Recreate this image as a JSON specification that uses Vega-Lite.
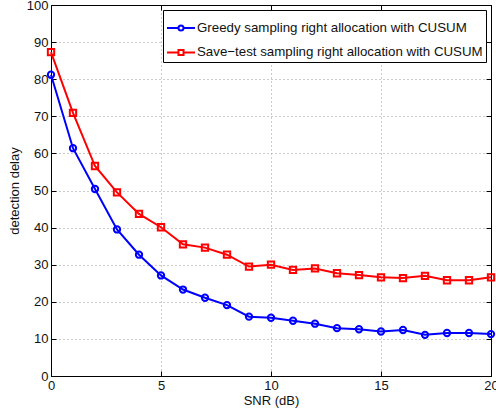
{
  "$schema": "https://vega.github.io/schema/vega-lite/v6.json",
  "width": 440,
  "height": 371,
  "autosize": {"type": "none"},
  "padding": {"left": 51, "top": 5, "right": 5, "bottom": 38},
  "background": "white",
  "config": {
    "view": {"stroke": "black", "strokeWidth": 1},
    "font": "Liberation Sans",
    "axis": {
      "labelFont": "Liberation Sans",
      "titleFont": "Liberation Sans",
      "labelColor": "#111",
      "titleColor": "#111",
      "domainColor": "black",
      "tickColor": "black",
      "gridColor": "#999",
      "gridDash": [1, 3],
      "gridOpacity": 1,
      "labelFontSize": 13,
      "titleFontSize": 13,
      "titleFontWeight": "normal"
    }
  },
  "data": {
    "values": [
      {"snr": 0, "delay": 81.2, "series": "Greedy sampling right allocation with CUSUM"},
      {"snr": 1, "delay": 61.4, "series": "Greedy sampling right allocation with CUSUM"},
      {"snr": 2, "delay": 50.4, "series": "Greedy sampling right allocation with CUSUM"},
      {"snr": 3, "delay": 39.5, "series": "Greedy sampling right allocation with CUSUM"},
      {"snr": 4, "delay": 32.7, "series": "Greedy sampling right allocation with CUSUM"},
      {"snr": 5, "delay": 27.1, "series": "Greedy sampling right allocation with CUSUM"},
      {"snr": 6, "delay": 23.3, "series": "Greedy sampling right allocation with CUSUM"},
      {"snr": 7, "delay": 21.1, "series": "Greedy sampling right allocation with CUSUM"},
      {"snr": 8, "delay": 19.1, "series": "Greedy sampling right allocation with CUSUM"},
      {"snr": 9, "delay": 16.0, "series": "Greedy sampling right allocation with CUSUM"},
      {"snr": 10, "delay": 15.7, "series": "Greedy sampling right allocation with CUSUM"},
      {"snr": 11, "delay": 14.9, "series": "Greedy sampling right allocation with CUSUM"},
      {"snr": 12, "delay": 14.1, "series": "Greedy sampling right allocation with CUSUM"},
      {"snr": 13, "delay": 12.9, "series": "Greedy sampling right allocation with CUSUM"},
      {"snr": 14, "delay": 12.6, "series": "Greedy sampling right allocation with CUSUM"},
      {"snr": 15, "delay": 12.0, "series": "Greedy sampling right allocation with CUSUM"},
      {"snr": 16, "delay": 12.4, "series": "Greedy sampling right allocation with CUSUM"},
      {"snr": 17, "delay": 11.1, "series": "Greedy sampling right allocation with CUSUM"},
      {"snr": 18, "delay": 11.6, "series": "Greedy sampling right allocation with CUSUM"},
      {"snr": 19, "delay": 11.6, "series": "Greedy sampling right allocation with CUSUM"},
      {"snr": 20, "delay": 11.3, "series": "Greedy sampling right allocation with CUSUM"},
      {"snr": 0, "delay": 87.3, "series": "Save−test sampling right allocation with CUSUM"},
      {"snr": 1, "delay": 70.9, "series": "Save−test sampling right allocation with CUSUM"},
      {"snr": 2, "delay": 56.6, "series": "Save−test sampling right allocation with CUSUM"},
      {"snr": 3, "delay": 49.5, "series": "Save−test sampling right allocation with CUSUM"},
      {"snr": 4, "delay": 43.7, "series": "Save−test sampling right allocation with CUSUM"},
      {"snr": 5, "delay": 40.1, "series": "Save−test sampling right allocation with CUSUM"},
      {"snr": 6, "delay": 35.5, "series": "Save−test sampling right allocation with CUSUM"},
      {"snr": 7, "delay": 34.6, "series": "Save−test sampling right allocation with CUSUM"},
      {"snr": 8, "delay": 32.7, "series": "Save−test sampling right allocation with CUSUM"},
      {"snr": 9, "delay": 29.5, "series": "Save−test sampling right allocation with CUSUM"},
      {"snr": 10, "delay": 30.0, "series": "Save−test sampling right allocation with CUSUM"},
      {"snr": 11, "delay": 28.6, "series": "Save−test sampling right allocation with CUSUM"},
      {"snr": 12, "delay": 29.0, "series": "Save−test sampling right allocation with CUSUM"},
      {"snr": 13, "delay": 27.7, "series": "Save−test sampling right allocation with CUSUM"},
      {"snr": 14, "delay": 27.2, "series": "Save−test sampling right allocation with CUSUM"},
      {"snr": 15, "delay": 26.6, "series": "Save−test sampling right allocation with CUSUM"},
      {"snr": 16, "delay": 26.4, "series": "Save−test sampling right allocation with CUSUM"},
      {"snr": 17, "delay": 27.0, "series": "Save−test sampling right allocation with CUSUM"},
      {"snr": 18, "delay": 25.8, "series": "Save−test sampling right allocation with CUSUM"},
      {"snr": 19, "delay": 25.8, "series": "Save−test sampling right allocation with CUSUM"},
      {"snr": 20, "delay": 26.6, "series": "Save−test sampling right allocation with CUSUM"}
    ]
  },
  "encoding": {
    "color": {
      "field": "series",
      "type": "nominal",
      "scale": {
        "domain": ["Greedy sampling right allocation with CUSUM", "Save−test sampling right allocation with CUSUM"],
        "range": ["#0000ff", "#ff0000"]
      },
      "legend": {
        "title": null,
        "orient": "top-right",
        "offset": 5,
        "strokeColor": "black",
        "fillColor": "white",
        "padding": 3,
        "labelFont": "Liberation Sans",
        "labelFontSize": 13.3,
        "labelColor": "#111",
        "labelLimit": 400,
        "rowPadding": 2.4,
        "symbolSize": 784,
        "symbolStrokeWidth": 2,
        "symbolOffset": 0,
        "labelOffset": 1,
        "encode": {
          "symbols": {
            "update": {
              "shape": {"signal": "indexof(datum.value, 'Greedy') === 0 ? 'M-1,0L-0.18,0M0.18,0L1,0M0.18,0A0.18,0.18 0 1,1 -0.18,0A0.18,0.18 0 1,1 0.18,0' : 'M-1,0L-0.18,0M0.18,0L1,0M-0.18,-0.18L0.18,-0.18L0.18,0.18L-0.18,0.18Z'"},
              "fill": {"value": "transparent"},
              "strokeWidth": {"value": 2}
            }
          }
        }
      }
    }
  },
  "resolve": {"axis": {"x": "independent", "y": "independent"}},
  "layer": [
    {
      "mark": {"type": "line", "strokeWidth": 2},
      "encoding": {
        "x": {
          "field": "snr",
          "type": "quantitative",
          "scale": {"domain": [0, 20], "nice": false},
          "axis": {
            "title": "SNR (dB)",
            "values": [0, 5, 10, 15, 20],
            "tickSize": -5,
            "labelPadding": 8,
            "titlePadding": 2,
            "labelFlush": false
          }
        },
        "y": {
          "field": "delay",
          "type": "quantitative",
          "scale": {"domain": [0, 100], "nice": false},
          "axis": {
            "title": "detection delay",
            "values": [0, 10, 20, 30, 40, 50, 60, 70, 80, 90, 100],
            "tickSize": -5,
            "labelPadding": 8,
            "titlePadding": 5,
            "labelFlush": false
          }
        }
      }
    },
    {
      "mark": {"type": "point", "filled": false, "strokeWidth": 2, "size": 40, "opacity": 1},
      "encoding": {
        "x": {
          "field": "snr",
          "type": "quantitative",
          "scale": {"domain": [0, 20], "nice": false},
          "axis": {
            "orient": "top",
            "title": null,
            "labels": false,
            "grid": false,
            "values": [0, 5, 10, 15, 20],
            "tickSize": -5
          }
        },
        "y": {
          "field": "delay",
          "type": "quantitative",
          "scale": {"domain": [0, 100], "nice": false},
          "axis": {
            "orient": "right",
            "title": null,
            "labels": false,
            "grid": false,
            "values": [0, 10, 20, 30, 40, 50, 60, 70, 80, 90, 100],
            "tickSize": -5
          }
        },
        "shape": {
          "field": "series",
          "type": "nominal",
          "scale": {"range": ["circle", "square"]},
          "legend": null
        }
      }
    }
  ]
}
